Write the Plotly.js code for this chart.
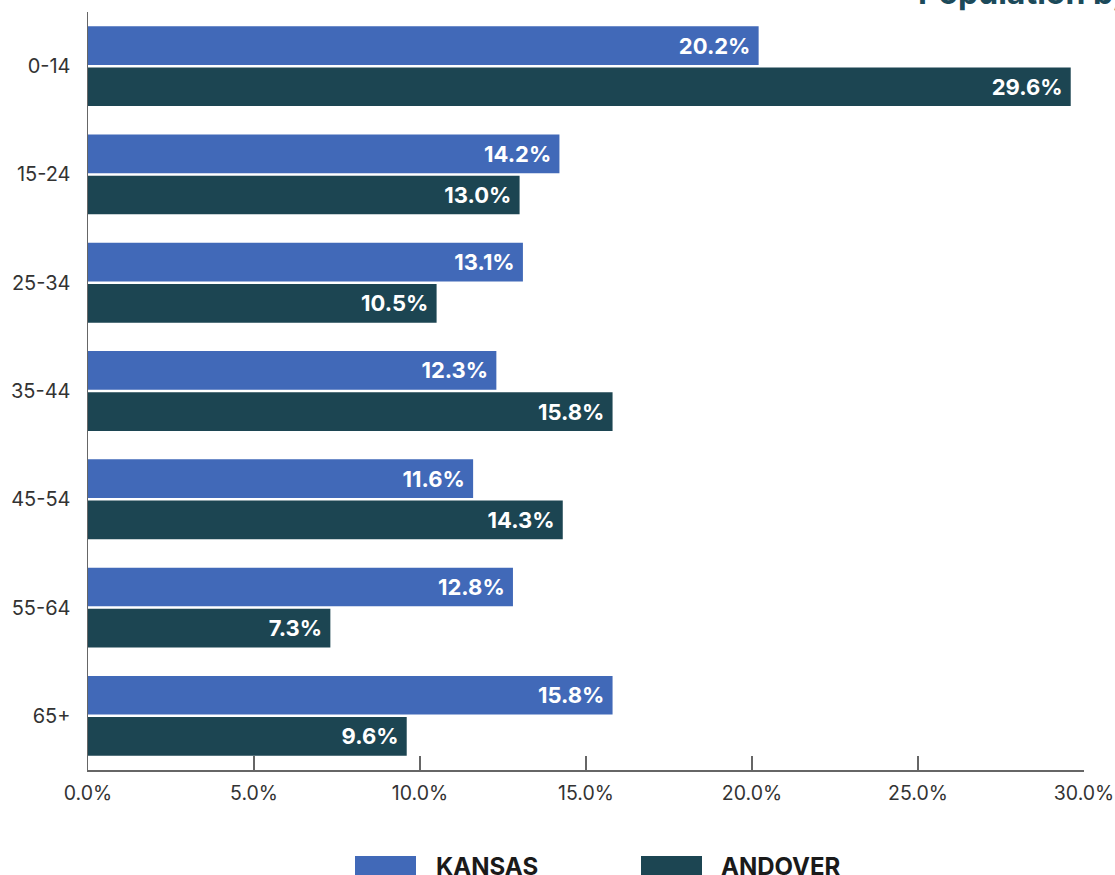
<!DOCTYPE html>
<html>
<head>
<meta charset="utf-8">
<script src="https://cdn.plot.ly/plotly-3.0.1.min.js"></script>
<style>html,body{margin:0;padding:0;background:#fff;}#chart{width:1115px;height:875px;}</style>
</head>
<body>
<div id="chart"></div>
<script>
const categories = ["0-14", "15-24", "25-34", "35-44", "45-54", "55-64", "65+"];
const seriesNames = ["KANSAS", "ANDOVER"];
const kansas = [20.2, 14.2, 13.1, 12.3, 11.6, 12.8, 15.8];
const andover = [29.6, 13.0, 10.5, 15.8, 14.3, 7.3, 9.6];
const xTickVals = [0, 5, 10, 15, 20, 25, 30];
const xTickText = ["0.0%", "5.0%", "10.0%", "15.0%", "20.0%", "25.0%", "30.0%"];
const titleText = "Population by Age";

const colors = ["#4169B8", "#1C4552"];
const fam = "Inter, 'Open Sans', sans-serif";
const labelFont = {family: fam, size: 22, color: "#ffffff", weight: 700};

function barTrace(name, vals, color) {
  return {
    type: "bar", orientation: "h", name: name,
    y: categories, x: vals,
    marker: {color: color},
    text: vals.map(v => v.toFixed(1) + "%\u00a0"),
    textposition: "inside", insidetextanchor: "end",
    textfont: labelFont, insidetextfont: labelFont,
    hoverinfo: "x+y", cliponaxis: false
  };
}

const data = [barTrace(seriesNames[0], kansas, colors[0]), barTrace(seriesNames[1], andover, colors[1])];

const plotTop = 12, plotBottom = 770, plotLeft = 88, plotRight = 1084;
const ph = plotBottom - plotTop, pw = plotRight - plotLeft;
const px = x => (x - plotLeft) / pw;
const py = y => (plotBottom - y) / ph;

const legendBoxes = [[355, 416], [641, 702]];
const legendTextX = [434, 719];

const shapes = legendBoxes.map((b, i) => ({
  type: "rect", xref: "paper", yref: "paper",
  x0: px(b[0]), x1: px(b[1]), y0: py(856), y1: py(882),
  fillcolor: colors[i], line: {width: 0}
}));

const annotations = seriesNames.map((n, i) => ({
  xref: "paper", yref: "paper", x: px(legendTextX[i]), y: py(866),
  xanchor: "left", yanchor: "middle", showarrow: false,
  text: n, font: {family: fam, size: 24, color: "#1a1a1a", weight: 700}
}));
annotations.push({
  xref: "paper", yref: "paper", x: px(916), y: py(14),
  xanchor: "left", yanchor: "bottom", showarrow: false,
  text: titleText, font: {family: fam, size: 32, color: "#1C4A5A", weight: 700}
});

const layout = {
  width: 1115, height: 875,
  margin: {l: plotLeft, r: 1115 - plotRight, t: plotTop, b: 875 - plotBottom},
  paper_bgcolor: "#ffffff", plot_bgcolor: "#ffffff",
  barmode: "group", bargap: 0.24, bargroupgap: 0.06,
  showlegend: false,
  font: {family: fam, color: "#333"},
  xaxis: {
    range: [0, 30], tickvals: xTickVals, ticktext: xTickText,
    showgrid: false, zeroline: false,
    showline: true, linecolor: "#666", linewidth: 1.5,
    ticks: "inside", ticklen: 14, tickcolor: "#666", tickwidth: 1.2,
    tickfont: {size: 19.5, color: "#333"}, ticklabelstandoff: 5
  },
  yaxis: {
    autorange: "reversed", showgrid: false, zeroline: false,
    showline: true, linecolor: "#666", linewidth: 1.5, ticks: "",
    tickfont: {size: 20, color: "#333"}, ticklabelstandoff: 12
  },
  shapes: shapes,
  annotations: annotations
};

Plotly.newPlot("chart", data, layout, {displayModeBar: false, staticPlot: true});
</script>
</body>
</html>
